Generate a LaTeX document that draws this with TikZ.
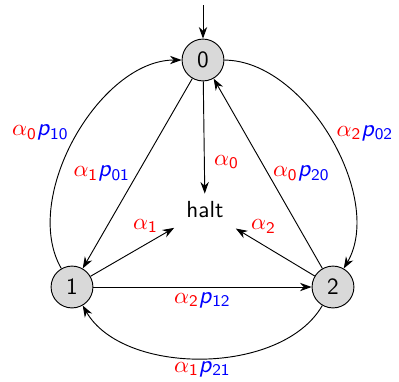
\documentclass[tikz,border=0pt]{standalone}
\usetikzlibrary{arrows.meta}
\newcommand\al[1]{\textcolor{red}{$\alpha_{\mathsf{#1}}$}}
\newcommand\pp[1]{\textcolor{blue}{\textsf{\itshape p}$_{\mathsf{#1}}$}}
\begin{document}
\begin{tikzpicture}[x=0.43pt,y=-0.43pt,
  state/.style={circle,draw,fill=black!15,minimum size=18pt,inner sep=0pt,font=\sffamily},
  lbl/.style={font=\sffamily\fontsize{10.4}{12.5}\selectfont,inner sep=2pt},
  edge/.style={-{Stealth[length=5pt,width=3.6pt]},line width=0.4pt},
  arc/.style={edge,bend left=60,looseness=0.87}]
\useasboundingbox (0,0) rectangle (399,381);
\node[state] (n0) at (203,60) {0};
\node[state] (n1) at (72,287) {1};
\node[state] (n2) at (333,287) {2};
\node[font=\sffamily] (h) at (205,210) {halt};
\coordinate (s) at (203,5);
\draw[edge] (s) -- (n0);
\draw[edge] (n0) -- node[lbl,pos=0.72,right=2pt]{\al0} (h);
\draw[edge,shorten >=2pt] (n1) -- node[lbl,pos=0.8,above left=-1pt]{\al1} (h);
\draw[edge,shorten >=2pt] (n2) -- node[lbl,pos=0.8,above right=-1pt]{\al2} (h);
\draw[edge] (n0) -- node[lbl,left=1pt]{\al1\pp{01}} (n1);
\draw[edge] (n2) -- node[lbl,right]{\al0\pp{20}} (n0);
\draw[edge] (n1) -- node[lbl,below]{\al2\pp{12}} (n2);
\draw[arc] (n1) to node[lbl,pos=0.52,left=2pt]{\al0\pp{10}} (n0);
\draw[arc] (n0) to node[lbl,pos=0.48,right=2pt]{\al2\pp{02}} (n2);
\draw[arc] (n2) to node[lbl,below=0pt,inner sep=1pt]{\al1\pp{21}} (n1);
\end{tikzpicture}
\end{document}
